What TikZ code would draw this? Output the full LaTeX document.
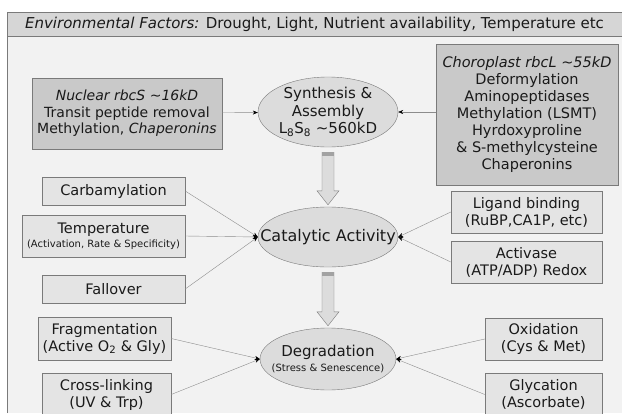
\documentclass[tikz,border=0pt]{standalone}
\usepackage{fontspec}
\setmainfont{DejaVu Sans}
\usetikzlibrary{arrows.meta, shapes.geometric, calc}
\definecolor{bggray}{HTML}{F2F2F2}
\definecolor{bannerfill}{HTML}{D6D6D6}
\definecolor{darkfill}{HTML}{C9C9C9}
\definecolor{lightfill}{HTML}{E4E4E4}
\definecolor{ellfill}{HTML}{DCDCDC}
\definecolor{boxline}{HTML}{7A7A7A}
\definecolor{linegray}{HTML}{8C8C8C}
\definecolor{inkgray}{HTML}{1A1A1A}
\tikzstyle{banner} = [rectangle, draw=boxline, fill=bannerfill, text=inkgray, inner sep=0pt, font=\fontsize{15}{18}\selectfont]
\tikzstyle{darkbox} = [rectangle, draw=boxline, fill=darkfill, text=inkgray, align=center, inner sep=0pt]
\tikzstyle{lightbox} = [rectangle, draw=boxline, fill=lightfill, text=inkgray, align=center, inner sep=0pt]
\tikzstyle{stage} = [ellipse, draw=boxline, fill=ellfill, inner sep=0pt]
\tikzstyle{stagetext} = [align=center, text=inkgray, inner sep=0pt, font=\fontsize{15}{17.5}\selectfont]
\tikzstyle{arrow} = [draw=linegray, -{Stealth[black, length=5pt, width=4pt]}]
\tikzstyle{bigarrow} = [draw=boxline, fill=ellfill]
\newcommand{\smalltext}{\fontsize{10}{11}\selectfont}
\newcommand{\blockarrow}[2]{%
  \path[bigarrow] let \p1=(#1.south), \p2=(#2.north) in
    (\x1-6pt,\y1-5pt) -- (\x1+6pt,\y1-5pt) -- (\x1+6pt,\y2+16pt) -- (\x1+11pt,\y2+16pt)
    -- (\x1,\y2+2pt) -- (\x1-11pt,\y2+16pt) -- (\x1-6pt,\y2+16pt) -- cycle;
  \path[fill=boxline!70] let \p1=(#1.south) in
    (\x1-6pt,\y1-5pt) rectangle (\x1+6pt,\y1-9pt);}

\begin{document}
\begin{tikzpicture}[x=1pt, y=-1pt, font=\fontsize{14.5}{17}\selectfont]
        \useasboundingbox (0,0) rectangle (622,413);
        \clip (0,0) rectangle (622,413);
        \fill[bggray] (7,12) rectangle (622,413);
        \draw[boxline] (7,413) -- (7,12) -- (622,12);

        % Banner
        \node (env) [banner, minimum width=615pt, minimum height=24pt] at (314.5,24)
          {\textit{Environmental Factors:} Drought, Light, Nutrient availability, Temperature etc};

        % Synthesis
        \node (nuc) [darkbox, minimum width=190pt, minimum height=71pt, font=\fontsize{14}{16.5}\selectfont] at (127,113.5)
          {\textit{Nuclear rbcS \textasciitilde16kD}\\Transit peptide removal\\Methylation, \textit{Chaperonins}};
        \node (syn) [stage, minimum width=140pt, minimum height=70pt,
          label={[stagetext]center:Synthesis \&\\Assembly\\L\textsubscript{8}S\textsubscript{8} \textasciitilde560kD}] at (328,112) {};
        \node (chl) [darkbox, minimum width=182pt, minimum height=141pt] at (527,114.5)
          {\textit{Choroplast rbcL \textasciitilde55kD}\\Deformylation\\Aminopeptidases\\Methylation (LSMT)\\Hyrdoxyproline\\\& S-methylcysteine\\Chaperonins};

        % Activity
        \node (cat) [stage, minimum width=140pt, minimum height=60pt,
          label={[stagetext, font=\fontsize{16}{18}\selectfont]center:Catalytic Activity}] at (328,237) {};
        \node (carb) [lightbox, minimum width=143pt, minimum height=28pt] at (113.5,191) {Carbamylation};
        \node (temp) [lightbox, minimum width=163pt, minimum height=42pt] at (103.5,236)
          {Temperature\\[-3pt]{\smalltext(Activation, Rate \& Specificity)}};
        \node (fall) [lightbox, minimum width=143pt, minimum height=28pt] at (113.5,289) {Fallover};
        \node (lig) [lightbox, minimum width=151pt, minimum height=42pt] at (526.5,212)
          {Ligand binding\\(RuBP,CA1P, etc)};
        \node (act) [lightbox, minimum width=151pt, minimum height=42pt] at (526.5,262)
          {Activase\\(ATP/ADP) Redox};

        % Degradation
        \node (deg) [stage, minimum width=136pt, minimum height=62pt,
          label={[stagetext]center:Degradation\\[-3pt]{\smalltext(Stress \& Senescence)}}] at (328,359) {};
        \node (frag) [lightbox, minimum width=133pt, minimum height=43pt] at (104.5,338.5)
          {Fragmentation\\(Active O\textsubscript{2} \& Gly)};
        \node (cross) [lightbox, minimum width=129pt, minimum height=43pt] at (106.5,394.5)
          {Cross-linking\\(UV \& Trp)};
        \node (oxi) [lightbox, minimum width=117pt, minimum height=42pt] at (543.5,339)
          {Oxidation\\(Cys \& Met)};
        \node (gly) [lightbox, minimum width=117pt, minimum height=43pt] at (543.5,394.5)
          {Glycation\\(Ascorbate)};

        % Arrows
        \draw [arrow] (nuc) -- (syn);
        \draw [arrow] (chl.west |- syn) -- (syn);
        \draw [arrow] (carb.east) -- (cat.west);
        \draw [arrow] (temp.east) -- (cat.west);
        \draw [arrow] (fall.east) -- (cat.west);
        \draw [arrow] (lig.west) -- (cat.east);
        \draw [arrow] (act.west) -- (cat.east);
        \draw [arrow] (frag.east) -- (deg.west);
        \draw [arrow] (cross.east) -- (deg.west);
        \draw [arrow] (oxi.west) -- (deg.east);
        \draw [arrow] (gly.west) -- (deg.east);

        \blockarrow{syn}{cat}
        \blockarrow{cat}{deg}
    \end{tikzpicture}
\end{document}
